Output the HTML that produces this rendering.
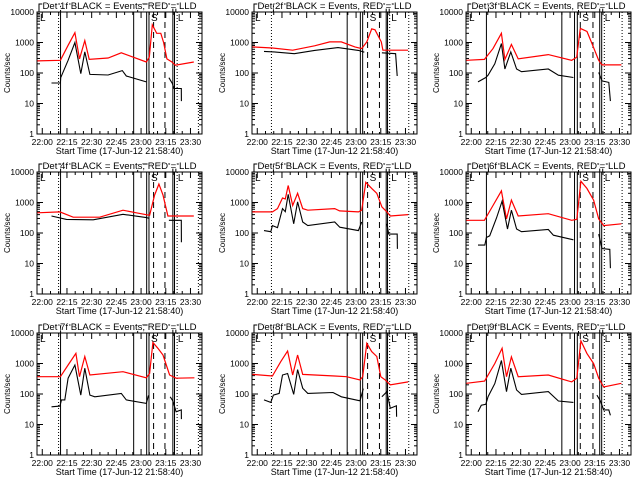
<!DOCTYPE html>
<html><head><meta charset="utf-8">
<style>
html,body{margin:0;padding:0;background:#fff;}
svg{display:block;font-family:"Liberation Sans",sans-serif;}
</style></head>
<body>
<svg id="chart" width="640" height="480" viewBox="0 0 640 480" xmlns="http://www.w3.org/2000/svg"></svg>
<script>
// ---- data (time in minutes after 22:00, counts/sec) ----
const tickLabels = ["22:00","22:15","22:30","22:45","23:00","23:15","23:30"];
const tickTimes = [0,15,30,45,60,75,90];
const yTickValues = [1,10,100,1000,10000];
const yTickLabels = ["1","10","100","1000","10000"];
const panelNames = ["1f","2f","3f","4f","5f","6f","7f","8f","9f"];

const blackT1=[5.6,11,11.2,15.7,19.8,23.4,25.8,28.9,40,48.6,51,63.2,null,76.9,79,80,82,84.4,84.5];
const blackV1=[47,47,70,260,1000,95,490,90,86,120,80,51,null,70,45,31,31,31,12];
const redT1=[-3,11,15.7,19.8,22.6,25.8,28.5,40,48,63.2,65,66.8,69.5,72,73.7,75.7,78.7,80.8,92];
const redV1=[250,260,810,2100,290,1150,280,310,460,230,330,3800,2000,2000,1000,290,230,180,230];

const blackT2=[4.1,10.2,22.5,34.8,49,61.4,65,null,75.7,84,85];
const blackV2=[510,490,430,550,680,550,480,null,460,430,80];
const redT2=[-3,9.2,21.5,34.8,44,51,59.3,63.4,66.5,69.5,71.5,75.3,76.3,91.6];
const redV2=[720,660,560,780,1050,1050,720,630,1050,2800,2600,1050,560,560];

const blackT3=[4.1,8.8,10.2,14.3,18.3,20.4,24,27.5,30.5,46.8,52.9,62,null,77.4,79.4,83.5,84.5];
const blackV3=[51,71,85,200,920,135,490,135,110,135,85,71,null,105,55,49,12];
const redT3=[-3,8,13.2,18.3,20.4,24.4,28.5,46.8,61,64,66.2,70.3,73.3,77.4,79.4,91.2];
const redV3=[260,280,630,2000,280,860,290,400,260,330,2900,2300,920,260,185,185];

const blackT4=[5.6,14.7,30.9,49,63.2,65,null,76.9,84.4,84.5];
const blackV4=[360,280,270,410,320,300,null,260,260,50];
const redT4=[-3,10.7,18.8,34.9,49,57.1,65.2,68.2,70.8,73.3,76.3,92];
const redV4=[460,490,330,330,560,460,380,1750,4000,1750,360,360];

const blackT5=[4.1,8.2,9.2,12.3,15.3,17,18.8,22.1,24.5,27.6,30.7,47,50.1,61.4,63.4,null,78.7,79.8,85,85.1];
const blackV5=[120,110,175,150,630,500,1850,200,1050,230,175,230,155,120,230,null,200,92,92,30];
const redT5=[-3,9.2,12.3,15.3,17,18.8,21.5,24.5,27.6,30.7,47,50,61.4,63.4,65.9,69.5,72.6,75.7,78.7,80.8,91.6];
const redV5=[490,490,630,1400,1300,3600,800,2000,630,560,630,530,490,560,4600,2900,2000,720,490,360,400];

const blackT6=[4.1,8.2,9.2,11.2,15.3,18.7,22,24.4,27.5,30.5,46.8,49.9,62,null,77.4,79.4,84.1,84.5];
const blackV6=[40,40,71,81,310,1100,135,560,135,110,130,85,60,null,92,31,29,7];
const redT6=[-3,8,13.2,18.3,21.4,24.4,28.5,46.8,61,64.1,66.6,70.2,74.3,77.4,80.4,91.2];
const redV6=[260,260,800,2400,290,1200,360,430,260,280,5000,2900,1200,290,175,200];

const blackT7=[5.6,10.7,11.7,13.7,15.7,19.8,23.4,25.8,28.9,31.9,48,51,63.2,64.5,null,77.7,79.3,81.3,84.4,84.5];
const blackV7=[38,40,64,64,330,890,92,700,92,81,105,64,49,90,null,81,59,26,30,15];
const redT7=[-3,11,15.7,20.4,22.6,25.8,28.9,49,63.2,65.2,67.2,70.2,73.3,75.3,77.3,81.3,92.4];
const redV7=[370,370,890,2150,370,1700,420,540,340,470,4900,3150,1900,890,420,330,340];

const blackT8=[4.1,8.2,9.8,13.3,15.3,18.4,22.1,24.5,27.6,30.7,46,51.1,62.4,64.4,null,75.7,78.7,80.8,84.5,84.6];
const blackV8=[64,53,92,105,420,470,97,630,155,105,112,81,60,150,null,81,120,34,41,18];
const redT8=[-3,9.2,14.3,18.4,21.5,24.5,27.6,47,54.2,62.4,64,66.5,69.5,72.6,75,77.7,80.8,91.6];
const redV8=[440,390,1150,2550,420,1900,440,390,370,290,370,4600,2450,1700,370,290,200,250];

const blackT9=[4.1,6.1,8.8,10.2,14.3,18.3,21.4,24,27.5,30.5,46.8,52.9,62,null,76.3,78.4,80.4,83.5,84.5];
const blackV9=[26,43,46,82,220,1250,120,700,135,97,120,59,53,null,92,59,30,30,20];
const redT9=[-3,8.1,14.3,18.7,21.4,24.4,28.5,46.8,61,64.1,66.6,70.2,74.3,77.4,80.4,91.2];
const redV9=[225,265,1000,3150,370,1650,370,420,250,330,5500,2150,1000,330,170,225];

const blackT=[blackT1,blackT2,blackT3,blackT4,blackT5,blackT6,blackT7,blackT8,blackT9];
const blackV=[blackV1,blackV2,blackV3,blackV4,blackV5,blackV6,blackV7,blackV8,blackV9];
const redT=[redT1,redT2,redT3,redT4,redT5,redT6,redT7,redT8,redT9];
const redV=[redV1,redV2,redV3,redV4,redV5,redV6,redV7,redV8,redV9];

const markerTimesCol = [
  [9.9,11.1,55.5,63.4,64.8,67.6,74.5,79.3,80.3,81.9,94.8],
  [8.6,54.6,62.6,64,67,74.2,78.3,79.1,80.4,92],
  [9.2,55,62.7,64.4,66.2,73.9,78,79.2,80.8,91.6]
];
const markerStylesCol = [
  ["dot","solid","solid","solid","solid","dash","dash","solid","solid","dot","dot"],
  ["dot","solid","solid","solid","dash","dash","solid","solid","dot","dot"],
  ["solid","solid","solid","solid","dash","dash","solid","solid","dot","dot"]
];

// ---- layout ----
const NS="http://www.w3.org/2000/svg";
const svg=document.getElementById('chart');
const colX=[37,252,466], rowY=[12,172,333], W=165, H=122;
const tMin=-3.2, tMax=97;
function mk(tag,attrs,parent){const e=document.createElementNS(NS,tag);for(const k in attrs)e.setAttribute(k,attrs[k]);(parent||svg).appendChild(e);return e;}

for(let p=0;p<9;p++){
  const c=p%3, r=Math.floor(p/3);
  const x0=colX[c], y0=rowY[r];
  const xs=t=>x0+(t-tMin)/(tMax-tMin)*W;
  const ys=v=>y0+H-(Math.log10(v)/4)*H;
  const g=mk('g',{});
  
  

  const mt=markerTimesCol[c], ms=markerStylesCol[c];
  for(let i=0;i<mt.length;i++){
    const x=xs(mt[i]);
    const a={x1:x,x2:x,y1:y0,y2:y0+H,stroke:'#000','stroke-width':1};
    if(ms[i]==='dot')a['stroke-dasharray']='1,2';
    if(ms[i]==='dash')a['stroke-dasharray']='6,4';
    const l=mk('line',a,g);
    
    
  }
  const b1=xs(mt[0]), b2=xs(mt[2]), b3=xs(mt[mt.length-4]);
  mk('polyline',{points:(x0+2)+','+y0+' '+(x0+2)+','+(y0-8)+' '+(x0+W/2-40)+','+(y0-8),fill:'none',stroke:'#000'},g);
  mk('line',{x1:b1+2,x2:b1+2,y1:y0,y2:y0-8,stroke:'#000'},g);
  mk('polyline',{points:(b2+4)+','+y0+' '+(b2+4)+','+(y0-8)+' '+(b3)+','+(y0-8)+' '+b3+','+y0,fill:'none',stroke:'#000'},g);
  mk('polyline',{points:(b3+3)+','+y0+' '+(b3+3)+','+(y0-8)+' '+(x0+W-22)+','+(y0-8),fill:'none',stroke:'#000'},g);

  const title=mk('text',{x:x0+W/2,y:y0-3,'font-size':'9.6','text-anchor':'middle',fill:'#000',stroke:'#fff','stroke-width':'2','paint-order':'stroke'},g);
  
  
  title.textContent='Det '+panelNames[p]+' BLACK = Events, RED = LLD';

  const fr=mk('rect',{x:x0,y:y0,width:W,height:H,fill:'none',stroke:'#000','stroke-width':1},g);
  
  

  for(let i=0;i<yTickValues.length;i++){
    const y=ys(yTickValues[i]);
    mk('line',{x1:x0,x2:x0+6,y1:y,y2:y,stroke:'#000'},g);
    mk('line',{x1:x0+W-6,x2:x0+W,y1:y,y2:y,stroke:'#000'},g);
    const lb=mk('text',{x:x0-3,y:y+3,'font-size':'8.5','text-anchor':'end',fill:'#000'},g);
    
    
    lb.textContent=yTickLabels[i];
    if(i<yTickValues.length-1){
      for(let m=2;m<10;m++){
        const ym=ys(yTickValues[i]*m);
        mk('line',{x1:x0,x2:x0+3,y1:ym,y2:ym,stroke:'#000'},g);
        mk('line',{x1:x0+W-3,x2:x0+W,y1:ym,y2:ym,stroke:'#000'},g);
      }
    }
  }
  for(let i=0;i<tickTimes.length;i++){
    const x=xs(tickTimes[i]);
    mk('line',{x1:x,x2:x,y1:y0+H,y2:y0+H-6,stroke:'#000'},g);
    mk('line',{x1:x,x2:x,y1:y0,y2:y0+6,stroke:'#000'},g);
    const lb=mk('text',{x:x,y:y0+H+11,'font-size':'8.5','text-anchor':'middle',fill:'#000'},g);
    
    
    lb.textContent=tickLabels[i];
  }
  for(let t=0;t<=95;t+=5){
    if(t%15===0)continue;
    const x=xs(t);
    mk('line',{x1:x,x2:x,y1:y0+H,y2:y0+H-3,stroke:'#000'},g);
    mk('line',{x1:x,x2:x,y1:y0,y2:y0+3,stroke:'#000'},g);
  }
  const xl=mk('text',{x:x0+W/2,y:y0+H+20,'font-size':'9','text-anchor':'middle',fill:'#000'},g);
  
  
  xl.textContent='Start Time (17-Jun-12 21:58:40)';
  const yl=mk('text',{x:0,y:0,'font-size':'8','text-anchor':'middle',fill:'#000',transform:'translate('+(x0-27)+','+(y0+H/2)+') rotate(-90)'},g);
  
  
  yl.textContent='Counts/sec';

  const lL=mk('text',{x:x0+3,y:y0+9,'font-size':'10',fill:'#000'},g);
  
  
  lL.textContent='L';
  const lS=mk('text',{x:xs(mt[4])+2,y:y0+9,'font-size':'10',fill:'#000'},g);
  
  
  lS.textContent='S';
  const lL2=mk('text',{x:b3+5,y:y0+9,'font-size':'10',fill:'#000'},g);
  
  
  lL2.textContent='L';

  function path(T,V){
    let d='',pen=false;
    for(let i=0;i<T.length;i++){
      if(T[i]===null){pen=false;continue;}
      d+=(pen?'L':'M')+xs(T[i]).toFixed(1)+','+ys(V[i]).toFixed(1);pen=true;
    }
    return d;
  }
  const red=mk('path',{d:path(redT[p],redV[p]),fill:'none',stroke:'#ff0000','stroke-width':1.2},g);
  
  
  const blk=mk('path',{d:path(blackT[p],blackV[p]),fill:'none',stroke:'#000','stroke-width':1.1},g);
  
  
}
</script>
</body></html>
